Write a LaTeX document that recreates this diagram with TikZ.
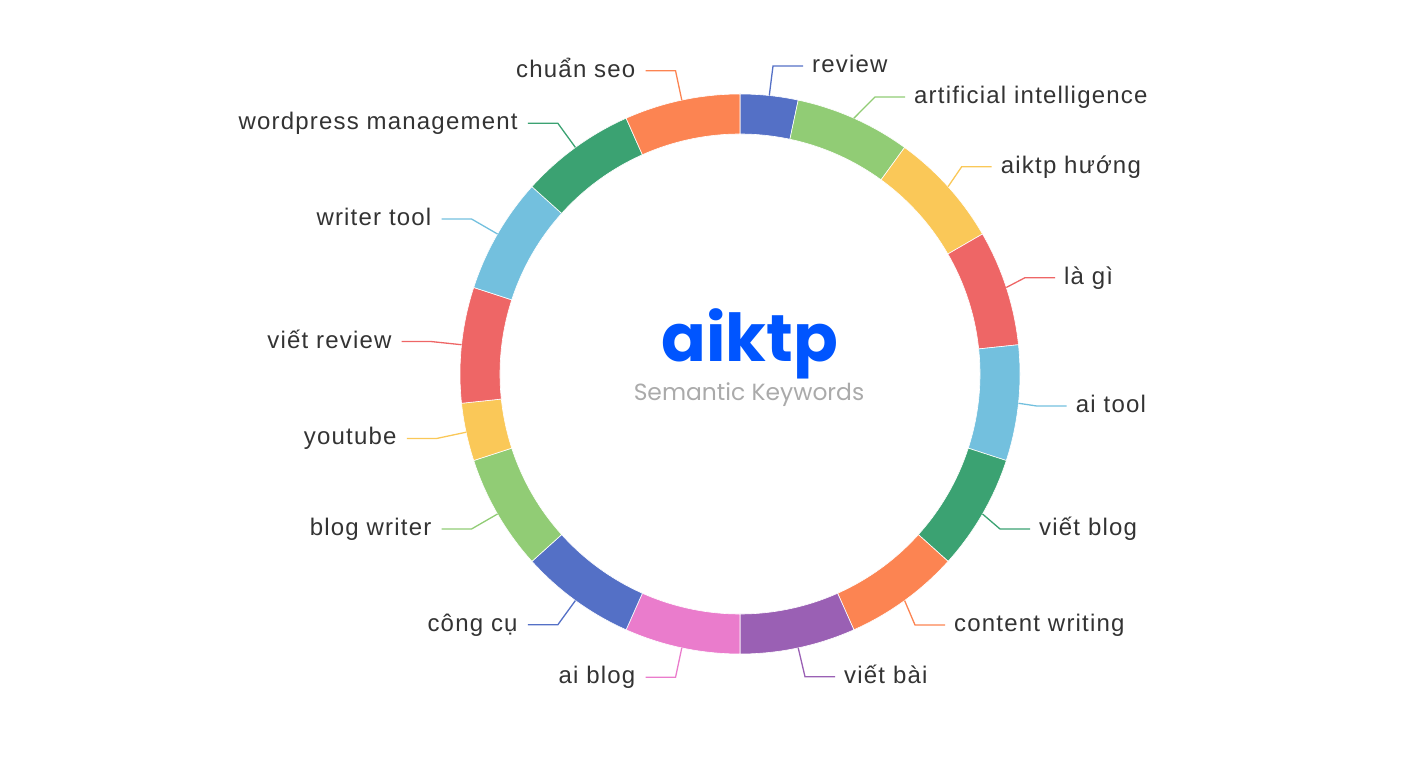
\documentclass[tikz,border=0pt]{standalone}
\usepackage{fontspec}
\setmainfont{Liberation Sans}
\newfontfamily\lblfont{Liberation Sans}[LetterSpace=5]
\newfontfamily\popfont{Poppins}
\definecolor{c1}{HTML}{5470C6}
\definecolor{c2}{HTML}{91CC75}
\definecolor{c3}{HTML}{FAC858}
\definecolor{c4}{HTML}{EE6666}
\definecolor{c5}{HTML}{73C0DE}
\definecolor{c6}{HTML}{3BA272}
\definecolor{c7}{HTML}{FC8452}
\definecolor{c8}{HTML}{9A60B4}
\definecolor{c9}{HTML}{EA7CCC}
\definecolor{lbltext}{HTML}{333333}
\definecolor{titleblue}{HTML}{0055FF}
\definecolor{subgray}{HTML}{AAAAAA}
\tikzset{
  seg/.style={fill=#1, draw=white, line width=0.6pt},
  lead/.style={draw=#1, line width=1.3pt},
  lbl/.style={font=\lblfont\fontsize{24}{28}\selectfont, text=lbltext, inner sep=0pt},
}
\begin{document}
\begin{tikzpicture}[x=1pt,y=1pt]
\useasboundingbox (0,0) rectangle (1427,761);
\begin{scope}[shift={(740,387)}]
  % ring
  \foreach \s/\e/\c in {90/78/c1, 78/54/c2, 54/30/c3, 30/6/c4, 6/-18/c5, -18/-42/c6,
      -42/-66/c7, -66/-90/c8, -90/-114/c9, -114/-138/c1, -138/-162/c2, -162/-174/c3,
      -174/-198/c4, -198/-222/c5, -222/-246/c6, -246/-270/c7}
    \path[seg=\c] (\s:280) arc[start angle=\s, end angle=\e, radius=280]
      -- (\e:240) arc[start angle=\e, end angle=\s, radius=240] -- cycle;
  % right-side labels (elbow positions as laid out)
  \foreach \n/\a/\kx/\ky/\t/\c in {1/84/33/308/review/c1,
      2/66/135/277/artificial intelligence/c2,
      3/42/221.7/207.3/aiktp hướng/c3,
      4/18/285/96.3/là gì/c4,
      5/-6/296.7/-32/ai tool/c5,
      6/-30/260/-155/viết blog/c6,
      7/-54/175/-251/content writing/c7,
      8/-78/65/-302.7/viết bài/c8}{
    \coordinate (s\n) at (\a:280);
    \coordinate (k\n) at (\kx,\ky);
    \coordinate (h\n) at ([xshift=30]k\n);
    \draw[lead=\c] (s\n) -- (k\n) -- (h\n);
    \node[lbl, anchor=base west] (t\n) at ([xshift=9, yshift=-6.5]h\n) {\t};
  }
  % left-side labels
  \foreach \n/\a/\t/\c in {9/-102/ai blog/c9, 10/-126/công cụ/c1, 11/-150/blog writer/c2,
      12/-168/youtube/c3, 13/174/viết review/c4, 14/150/writer tool/c5,
      15/126/wordpress management/c6, 16/102/chuẩn seo/c7}{
    \coordinate (s\n) at (\a:280);
    \coordinate (k\n) at (\a:310);
    \coordinate (h\n) at ([xshift=-30]k\n);
    \draw[lead=\c] (s\n) -- (k\n) -- (h\n);
    \node[lbl, anchor=base east] (t\n) at ([xshift=-10, yshift=-6.5]h\n) {\t};
  }
  % centre
  \node[font=\popfont\bfseries\fontsize{66}{72}\selectfont, text=titleblue, inner sep=0pt,
        anchor=base] (title) at (10,12) {aiktp};
  \node[font=\popfont\fontsize{23.4}{28}\selectfont, text=subgray, inner sep=0pt,
        anchor=base] (sub) at (9,-27) {Semantic Keywords};
\end{scope}
\end{tikzpicture}
\end{document}
